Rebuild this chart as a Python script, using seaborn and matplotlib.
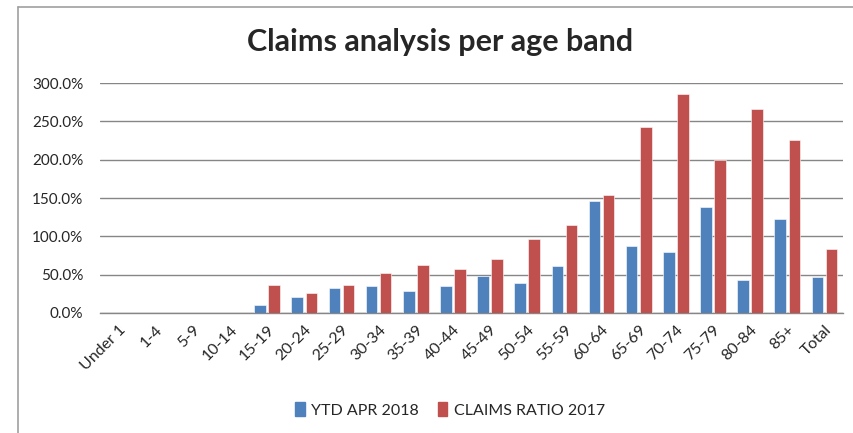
import matplotlib
matplotlib.use("Agg")
import matplotlib.pyplot as plt
import seaborn as sns
import pandas as pd
from matplotlib.lines import Line2D
from matplotlib.ticker import FuncFormatter

age_bands = ["Under 1", "1-4", "5-9", "10-14", "15-19", "20-24", "25-29", "30-34",
             "35-39", "40-44", "45-49", "50-54", "55-59", "60-64", "65-69", "70-74",
             "75-79", "80-84", "85+", "Total"]
ytd_apr_2018 = [0, 0, 0, 0, 10.2, 20.9, 32.0, 35.5, 28.5, 35.0, 48.0, 38.8, 61.5,
                146.0, 87.0, 79.0, 138.7, 43.2, 122.0, 47.5]
claims_ratio_2017 = [0, 0, 0, 0, 36.3, 26.2, 37.0, 52.8, 62.5, 58.0, 70.2, 96.0, 114.7,
                     153.5, 242.0, 285.6, 199.7, 266.4, 226.0, 83.3]
series_names = ["YTD APR 2018", "CLAIMS RATIO 2017"]
colors = ["#4F81BD", "#C0504D"]

df = pd.DataFrame({
    "Age band": age_bands * 2,
    "Value": ytd_apr_2018 + claims_ratio_2017,
    "Series": [series_names[0]] * len(age_bands) + [series_names[1]] * len(age_bands),
})

sns.set_style("white")
plt.rcParams["font.family"] = ["Lato", "DejaVu Sans"]

fig = plt.figure(figsize=(8.54, 4.33), dpi=100)
ax = fig.add_axes([100 / 854, 1 - 313 / 433, 743 / 854, 230 / 433])

sns.barplot(data=df, x="Age band", y="Value", hue="Series", order=age_bands,
            hue_order=series_names, palette=colors, width=0.76, gap=0.18,
            edgecolor="white", linewidth=0.4, saturation=1, ax=ax, zorder=3)

ax.set_ylim(0, 300)
ax.set_yticks([0, 50, 100, 150, 200, 250, 300])
ax.yaxis.set_major_formatter(FuncFormatter(lambda v, p: f"{v:.1f}%"))
ax.yaxis.grid(True, color="#868686", linewidth=1.0, zorder=0)
ax.set_axisbelow(True)
for s in ["top", "right", "left"]:
    ax.spines[s].set_visible(False)
ax.spines["bottom"].set_color("#868686")
ax.spines["bottom"].set_linewidth(1.0)
ax.set_xlim(-0.5, len(age_bands) - 0.5)
ax.set_xlabel("")
ax.set_ylabel("")
ax.tick_params(axis="y", labelsize=11, pad=12, length=0)
ax.tick_params(axis="x", labelsize=11.5, length=0, pad=7)
plt.setp(ax.get_xticklabels(), rotation=45, ha="right", rotation_mode="anchor")

fig.text(0.515, 1 - 42 / 433, "Claims analysis per age band", ha="center", va="center",
         fontsize=22, fontweight="bold")

ax.legend_.remove()
handles = [plt.Rectangle((0, 0), 1, 1, color=c) for c in colors]
fig.legend(handles, series_names, loc="center", bbox_to_anchor=(450 / 854, 1 - 410 / 433),
           ncol=2, frameon=False, fontsize=11.5, handlelength=0.6, handleheight=1.0,
           handletextpad=0.4, columnspacing=1.2)

# chart area border (top and left edges visible)
fig.add_artist(Line2D([18 / 854, 1.0], [1 - 6.5 / 433, 1 - 6.5 / 433], color="#A0A0A0", linewidth=1.2))
fig.add_artist(Line2D([18 / 854, 18 / 854], [0, 1 - 6.5 / 433], color="#A0A0A0", linewidth=1.2))

fig.savefig("out.png", dpi=100)
